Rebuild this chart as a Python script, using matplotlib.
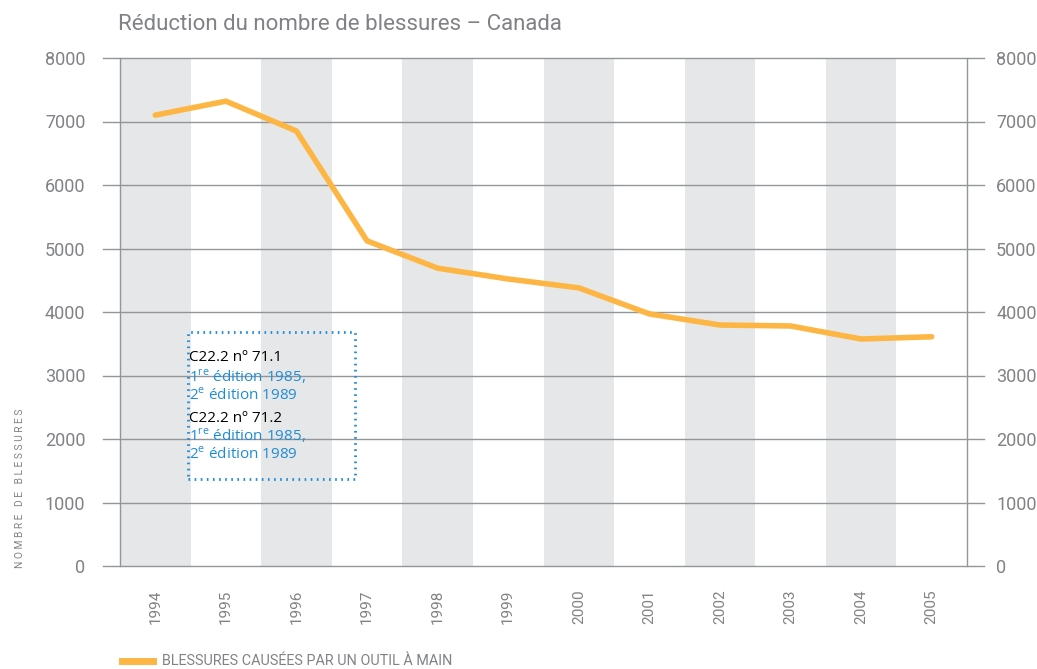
import numpy as np
import matplotlib.pyplot as plt

# data
years = ['1994', '1995', '1996', '1997', '1998', '1999',
         '2000', '2001', '2002', '2003', '2004', '2005']
injuries = [7100, 7320, 6850, 5120, 4690, 4520,
            4380, 3970, 3795, 3780, 3575, 3610]
y_ticks = [0, 1000, 2000, 3000, 4000, 5000, 6000, 7000, 8000]

grey_txt = '#808285'
line_col = '#FDB643'
band_col = '#E6E7E8'
blue = '#1F8DD6'

plt.rcParams['font.family'] = ['Roboto', 'DejaVu Sans']

fig = plt.figure(figsize=(10.37, 6.69), dpi=100)
ax = fig.add_axes([120/1037, 1-566/669, 847/1037, 508/669])

x = np.arange(len(years))
ax.set_xlim(-0.5, len(years) - 0.5)
ax.set_ylim(0, 8000)

# alternating grey columns
for i in range(0, len(years), 2):
    ax.axvspan(i - 0.5, i + 0.5, color=band_col, lw=0, zorder=0)

# gridlines extending beyond the frame
for v in y_ticks:
    ax.plot([-0.74, len(years) - 0.26], [v, v], color='#939598', lw=1,
            clip_on=False, zorder=1)

ax.plot(x, injuries, color=line_col, lw=4, solid_capstyle='round', zorder=3)

for side in ['top', 'bottom']:
    ax.spines[side].set_visible(False)
for side in ['left', 'right']:
    ax.spines[side].set_color('#939598')
    ax.spines[side].set_linewidth(1)

ax.set_yticks(y_ticks)
ax.set_yticklabels([str(v) for v in y_ticks])
ax.tick_params(axis='y', length=0, pad=25, labelsize=13, colors=grey_txt)
ax.set_xticks(x)
ax.set_xticklabels(years, rotation=90)
ax.tick_params(axis='x', length=0, pad=17, labelsize=11, colors=grey_txt)

# right-hand labels
ax2 = ax.twinx()
ax2.set_ylim(0, 8000)
ax2.set_yticks(y_ticks)
ax2.set_yticklabels([str(v) for v in y_ticks])
ax2.tick_params(axis='y', length=0, pad=21, labelsize=13, colors=grey_txt)
for s in ax2.spines.values():
    s.set_visible(False)

fig.text(118/1037, 1-25/669, 'Réduction du nombre de blessures – Canada',
         fontsize=16, color=grey_txt, va='center', ha='left')

fig.text(20/1037, 1-568/669, 'N O M B R E   D E   B L E S S U R E S',
         rotation=90, fontsize=7.4, color=grey_txt, ha='center', va='bottom')

# legend
fig.add_artist(plt.Line2D([122/1037, 153/1037], [1-661/669, 1-661/669],
                          color=line_col, lw=5))
fig.text(162/1037, 1-661/669, 'BLESSURES CAUSÉES PAR UN OUTIL À MAIN',
         fontsize=10.4, color=grey_txt, va='center', ha='left')

# annotation box
box = plt.Rectangle((188/1037, 1-479/669), 167/1037, 147/669,
                    transform=fig.transFigure, fill=False, ec=blue,
                    lw=2, ls=(0, (0.6, 1.6)), zorder=5)
fig.add_artist(box)

ann = [('C22.2 nº 71.1', 'black', 358),
       ('1$^{\\mathregular{re}}$ édition 1985,', blue, 377),
       ('2$^{\\mathregular{e}}$ édition 1989', blue, 395),
       ('C22.2 nº 71.2', 'black', 418),
       ('1$^{\\mathregular{re}}$ édition 1985,', blue, 436),
       ('2$^{\\mathregular{e}}$ édition 1989', blue, 454)]
for txt, col, yy in ann:
    fig.text(189/1037, 1-yy/669, txt, fontsize=11, color=col,
             family=['Open Sans', 'DejaVu Sans'],
             va='center', ha='left')

fig.savefig('out.png', dpi=100)
